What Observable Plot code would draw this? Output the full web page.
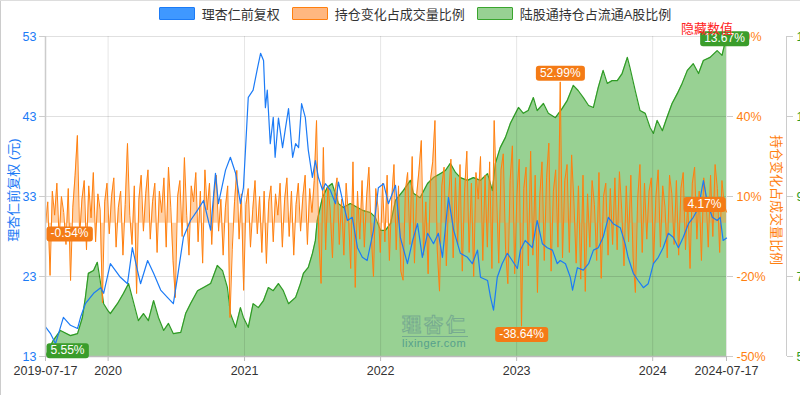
<!DOCTYPE html>
<html><head><meta charset="utf-8">
<script src="https://cdn.jsdelivr.net/npm/d3@7"></script>
<script src="https://cdn.jsdelivr.net/npm/@observablehq/plot@0.6"></script>
<style>
body{margin:0;background:#fff;font-family:"Liberation Sans",Arial,"Noto Sans CJK SC",sans-serif;}
#wrap{position:relative;width:800px;height:395px;overflow:hidden;}
#legend{height:26px;display:flex;justify-content:center;align-items:center;font-size:13px;color:#333;padding-left:30px;box-sizing:border-box}
.li{display:flex;align-items:center;margin:0 6px}
.sw{width:34px;height:11px;border:1px solid;margin-right:7px;border-radius:1px}
.abs{position:absolute;white-space:nowrap}
</style></head>
<body><div id="wrap">
<div id="legend"></div>
<div id="chart"></div>
</div>
<script>
// ---- data ----
const seriesNames = ["理杏仁前复权", "持仓变化占成交量比例", "陆股通持仓占流通A股比例"];
const startDate = "2019-07-17", endDate = "2024-07-17";
const priceDates = ["2019-07-17","2019-07-30","2019-08-13","2019-09-03","2019-09-22","2019-10-11","2019-10-19","2019-11-01","2019-11-23","2019-12-12","2019-12-20","2020-01-07","2020-02-03","2020-02-22","2020-03-06","2020-03-20","2020-03-28","2020-04-16","2020-05-02","2020-05-21","2020-06-08","2020-06-24","2020-07-05","2020-07-21","2020-08-09","2020-08-28","2020-09-13","2020-10-02","2020-10-15","2020-10-23","2020-11-11","2020-11-24","2020-12-08","2020-12-21","2020-12-29","2021-01-03","2021-01-11","2021-01-24","2021-02-05","2021-02-13","2021-02-21","2021-02-26","2021-03-03","2021-03-11","2021-03-19","2021-03-24","2021-04-02","2021-04-13","2021-04-21","2021-04-29","2021-05-10","2021-05-18","2021-05-26","2021-06-03","2021-06-13","2021-06-21","2021-07-02","2021-07-10","2021-07-18","2021-07-29","2021-08-06","2021-08-19","2021-09-02","2021-09-10","2021-09-23","2021-10-04","2021-10-17","2021-10-31","2021-11-13","2021-11-26","2021-12-13","2021-12-26","2022-01-09","2022-01-22","2022-02-10","2022-02-23","2022-03-14","2022-03-28","2022-04-10","2022-04-23","2022-05-07","2022-05-23","2022-06-05","2022-06-16","2022-07-02","2022-07-16","2022-08-03","2022-08-22","2022-09-04","2022-09-18","2022-09-26","2022-10-15","2022-10-23","2022-10-31","2022-11-10","2022-11-23","2022-12-07","2022-12-20","2023-01-03","2023-01-11","2023-01-24","2023-02-12","2023-02-25","2023-03-11","2023-03-24","2023-04-07","2023-04-20","2023-04-28","2023-05-12","2023-05-25","2023-05-31","2023-06-13","2023-06-29","2023-07-13","2023-07-26","2023-08-08","2023-08-21","2023-09-04","2023-09-17","2023-10-06","2023-10-19","2023-10-27","2023-11-10","2023-11-23","2023-12-07","2023-12-20","2024-01-03","2024-01-16","2024-01-29","2024-02-12","2024-02-25","2024-03-10","2024-03-23","2024-04-06","2024-04-19","2024-05-03","2024-05-16","2024-05-27","2024-06-09","2024-06-22","2024-06-30","2024-07-08","2024-07-17"];
const priceValues = [16.7,15.9,14.6,17.9,16.9,16.5,17.9,19.6,20.9,21.6,20.9,24.6,22.9,22.1,26.6,23.7,22.1,25.0,23.4,21.3,20.4,19.6,22.9,27.9,30.0,31.3,32.5,28.8,35.9,32.1,36.3,37.9,35.9,32.1,34.1,38.4,45.4,46.3,49.1,50.9,50.0,44.1,46.3,39.6,42.9,37.9,42.8,39.1,41.6,44.0,37.9,39.6,39.1,44.6,42.9,38.8,35.4,37.5,35.4,33.8,34.6,33.8,32.1,34.8,32.1,30.0,30.4,26.6,25.4,25.0,28.8,34.1,34.6,32.1,34.4,27.9,24.6,27.5,29.6,25.4,28.4,27.1,28.4,25.4,32.9,28.8,25.9,25.4,24.6,26.3,22.9,22.5,20.4,18.8,22.9,24.6,25.9,25.0,24.0,26.3,27.5,26.6,30.0,27.1,26.6,26.3,24.6,25.0,24.6,22.9,21.3,24.1,23.8,24.6,26.3,26.6,27.9,30.4,29.6,29.1,27.1,25.4,23.4,22.5,21.6,22.1,24.6,25.4,26.6,28.4,27.9,26.6,27.9,29.6,30.4,31.6,35.0,32.1,30.4,30.0,30.4,27.5,27.8];
const holdDates = ["2019-07-17","2019-08-07","2019-08-26","2019-09-22","2019-10-11","2019-10-24","2019-11-01","2019-11-09","2019-11-23","2019-12-03","2019-12-12","2019-12-20","2019-12-31","2020-01-07","2020-01-26","2020-02-11","2020-02-25","2020-03-08","2020-03-22","2020-04-05","2020-04-18","2020-05-02","2020-05-15","2020-05-29","2020-06-11","2020-06-24","2020-07-14","2020-07-27","2020-08-09","2020-08-28","2020-09-13","2020-10-02","2020-10-20","2020-11-03","2020-11-16","2020-11-24","2020-12-08","2020-12-21","2020-12-29","2021-01-11","2021-01-24","2021-02-07","2021-02-21","2021-03-06","2021-03-19","2021-04-02","2021-04-15","2021-04-29","2021-05-18","2021-05-31","2021-06-08","2021-06-21","2021-07-02","2021-07-10","2021-07-15","2021-07-29","2021-08-11","2021-08-24","2021-09-10","2021-09-23","2021-10-12","2021-10-31","2021-11-16","2021-12-05","2021-12-18","2022-01-01","2022-01-14","2022-01-28","2022-02-10","2022-03-03","2022-03-22","2022-03-30","2022-04-17","2022-05-07","2022-05-23","2022-06-10","2022-06-24","2022-07-07","2022-07-21","2022-08-03","2022-08-22","2022-09-07","2022-09-26","2022-10-15","2022-10-28","2022-11-05","2022-11-18","2022-12-02","2022-12-15","2022-12-29","2023-01-06","2023-01-19","2023-02-01","2023-02-15","2023-02-25","2023-03-14","2023-03-27","2023-04-15","2023-05-03","2023-05-17","2023-06-02","2023-06-15","2023-06-29","2023-07-13","2023-07-26","2023-08-08","2023-08-21","2023-09-01","2023-09-14","2023-09-28","2023-10-11","2023-10-25","2023-11-01","2023-11-15","2023-11-28","2023-12-12","2023-12-25","2024-01-03","2024-01-13","2024-01-27","2024-02-08","2024-02-22","2024-03-07","2024-03-20","2024-04-03","2024-04-19","2024-05-03","2024-05-16","2024-06-03","2024-06-22","2024-07-05","2024-07-17"];
const holdValues = [5.55,5.96,6.21,6.08,6.13,6.54,7.05,7.66,7.73,7.94,7.40,6.89,6.72,6.64,6.89,7.15,7.40,6.97,6.46,6.64,6.46,6.97,6.54,6.21,6.39,6.13,6.16,6.64,6.89,7.22,7.30,7.40,7.86,7.73,7.30,6.64,6.29,6.79,6.54,6.29,6.89,6.79,6.97,7.30,7.22,7.40,7.22,6.89,7.05,7.40,7.66,7.81,8.16,8.49,9.00,9.58,9.84,9.94,9.43,9.33,9.43,9.33,9.25,9.20,9.08,8.75,8.75,8.93,9.51,9.76,10.02,9.69,9.58,9.94,10.09,10.19,10.27,10.45,10.22,10.09,10.02,10.09,10.02,10.19,9.76,10.45,10.85,11.11,11.46,11.72,11.87,11.72,11.79,12.12,11.79,11.97,11.72,11.61,11.84,12.05,12.43,12.30,12.12,11.92,11.87,12.38,12.81,12.48,12.55,12.55,12.73,13.14,12.88,12.30,11.79,11.72,11.36,11.21,11.54,11.28,11.61,11.97,12.22,12.48,12.81,12.98,12.73,13.06,13.14,13.31,13.19,13.67];
// holding change as % of turnover, sampled evenly from start to end
const flowValues = [
-0.54,8,-19.6,12,3,15,-6,10,4,-8, 13,-21.5,6,18,32.9,-5,9,16,-10,14,
2,19,-7,11,5,-29.8,8,15,-4,10, 17,-9,6,12,-12,7,29.9,3,-8,14,
-26.4,9,18,-3,11,20,-6,8,15,-11, 12,4,17,-9,21,6,-14,-27.9,10,16,
-5,24.6,3,-12,14,8,19,-7,12,-15, 20,5,15,-8,11,18,-3,9,-12,6,
14,-35.4,-10,8,19.8,-6,11,-25.2,7,13, -9,5,16,-4,10,-11,12,-15.1,8,14,
-7,11,3,15,-9,9,17,-5,12,-12, 7,15,-3,10,18,-8,13,4,16,38.5,
-6,-22.6,28.4,-10,14,5,-13,11,17,-8, 9,-12,15,3,-17,23,-24.1,12,-6,16,
-9,10,21,-4,-20,13,6,-11,15,-7, 18,-14,9,22,-10,14,-18,-21.4,12,19,
-8,25,-15,11,20,31,-12,8,-19,16, 23,38.5,-10,-25.5,14,21,-16,9,24,-13,
17,-8,22,-18,12,27,-11,15,-20,19, 9,25,-14,18,-9,23,-17,38.5,12,-15,
20,26,-10,-22.7,16,29,-19,11,24,-38.64, 13,21,-16,27,-12,18,-26,10,23,-14,
17,30,-18,12,20,-9,52.99,-13,16,22, -11,25.6,8,-15,14,-21,18,-25.6,11,-9,
16,7,-14,19,-20.7,10,15,-12,13,-8, 17,-10,19.3,5,-16,14,-7,18,-13,-26,
9,22,-11,15,-6,12,17,-15,10,20, -9,14,6,-13,18,11,-8,16,-12,13,
19,-10,8,-17,15,21,-6,12,-14,17, 10,-9,18,-5,22,13,-11,16,7,4.17];
const xTickDates = ["2019-07-17","2020-01-01","2021-01-01","2022-01-01","2023-01-01","2024-01-01","2024-07-17"];
const xTickLabels = ["2019-07-17","2020","2021","2022","2023","2024","2024-07-17"];
const priceTicks = [13,23,33,43,53];
const flowTicks = [-50,-20,10,40,70];
const holdTicks = [5.55,7.58,9.61,11.64,13.67];

// ---- colors ----
const BLUE="#1c7bf6", ORANGE="#ff800f", GREEN="#2f9b25", GREENFILL="#98d193";

const parse = d3.utcParse("%Y-%m-%d");
const t0 = parse(startDate), t1 = parse(endDate);
const toPriceFromFlow = d3.scaleLinear([-50,70],[13,53]);
const toPriceFromHold = d3.scaleLinear([5.55,13.67],[13,53]);

const price = priceDates.map((d,i)=>({date:parse(d), v:priceValues[i]}));
const hold = holdDates.map((d,i)=>({date:parse(d), v:holdValues[i], y:toPriceFromHold(holdValues[i])}));
const flow = flowValues.map((v,i)=>({date:new Date(+t0 + (t1-t0)*i/(flowValues.length-1)), v, y:toPriceFromFlow(v)}));
const xticks = xTickDates.map(parse);
const xlab = new Map(xticks.map((d,i)=>[+d, xTickLabels[i]]));

// legend
const leg = document.getElementById("legend");
const legCols = [[BLUE,"#3f98ff"],[ORANGE,"#ffb780"],[ "#3aa52e", GREENFILL]];
seriesNames.forEach((n,i)=>{
  const el=document.createElement("div"); el.className="li";
  el.innerHTML=`<div class="sw" style="border-color:${legCols[i][0]};background:${legCols[i][1]}"></div><span>${n}</span>`;
  leg.appendChild(el);
});

const fi = flowValues.length-1;
const fmax = d3.maxIndex(flowValues), fmin = d3.minIndex(flowValues);
const pct = v => v.toFixed(2)+"%";

const plot = Plot.plot({
  width:800, height:369,
  marginTop:10, marginBottom:39, marginLeft:45, marginRight:74,
  x:{type:"utc", domain:[t0,t1]},
  y:{domain:[13,53]},
  style:{fontFamily:'"Liberation Sans",Arial,"Noto Sans CJK SC",sans-serif', fontSize:"12px", color:"#333", overflow:"visible"},
  marks:[
    Plot.areaY(hold,{x:"date", y1:13, y2:"y", fill:GREENFILL, curve:"linear"}),
    Plot.lineY(hold,{x:"date", y:"y", stroke:GREEN, strokeWidth:1.2}),
    Plot.gridY(priceTicks,{stroke:"#000", strokeOpacity:0.12}),
    Plot.gridX(xticks,{stroke:"#000", strokeOpacity:0.1}),
    Plot.areaY(flow,{x:"date", y1:toPriceFromFlow(0), y2:"y", fill:"#ff9a3c", fillOpacity:0.45}),
    Plot.lineY(flow,{x:"date", y:"y", stroke:ORANGE, strokeWidth:1}),
    Plot.lineY(price,{x:"date", y:"v", stroke:BLUE, strokeWidth:1.2}),
    Plot.ruleY([13],{stroke:"#bbb", strokeWidth:1.5}),
    Plot.ruleX([t0],{stroke:"#ccc", strokeWidth:1.5}),
    Plot.axisX(xticks,{tickFormat:d=>xlab.get(+d), tickSize:5, tickPadding:5, stroke:"#bbb", fill:"#333", fontSize:12.5, label:null}),
    Plot.axisY(priceTicks,{anchor:"left", tickSize:6, tickPadding:3, stroke:"#ccc", fill:BLUE, fontSize:12.5, label:null}),
    Plot.axisY(flowTicks.map(toPriceFromFlow),{anchor:"right", tickSize:6, tickPadding:4, stroke:"#ccc", fill:ORANGE, fontSize:12.5, tickFormat:d=>Math.round(toPriceFromFlow.invert(d))+"%", label:null}),
    Plot.ruleX([t1],{y1:13, y2:53, dx:60, stroke:"#ccc"}),
    Plot.axisY(holdTicks.map(toPriceFromHold),{anchor:"right", dx:60, tickSize:6, tickPadding:4, stroke:"#ccc", fill:GREEN, fontSize:12.5, tickFormat:d=>toPriceFromHold.invert(d).toFixed(2)+"%", label:null}),
    // value badges
    Plot.text([flow[0]],{x:"date", y:"y", text:d=>pct(d.v), textAnchor:"start", dx:5, dy:9, fill:"white", fontSize:12, className:"bo"}),
    Plot.text([flow[fmax]],{x:"date", y:"y", text:d=>pct(d.v), dy:-9, fill:"white", fontSize:12, className:"bo"}),
    Plot.text([flow[fmin]],{x:"date", y:"y", text:d=>pct(d.v), dy:8, fill:"white", fontSize:12, className:"bo"}),
    Plot.text([flow[fi]],{x:"date", y:"y", text:d=>pct(d.v), textAnchor:"end", dx:-5, dy:-8, fill:"white", fontSize:12, className:"bo"}),
    Plot.text([hold[0]],{x:"date", y:"y", text:d=>pct(d.v), textAnchor:"start", dx:5, dy:-6, fill:"white", fontSize:12, className:"bg"}),
    Plot.text([hold[hold.length-1]],{x:"date", y:"y", text:d=>pct(d.v), dy:2, dx:-2, fill:"white", fontSize:12, className:"bg"})
  ]
});
document.getElementById("chart").appendChild(plot);
function badges(cls,color){
  plot.querySelectorAll("g."+cls+" text").forEach(t=>{
    const b=t.getBBox();
    const r=document.createElementNS("http://www.w3.org/2000/svg","rect");
    r.setAttribute("x",b.x-4); r.setAttribute("y",b.y);
    r.setAttribute("width",b.width+8); r.setAttribute("height",b.height+1);
    r.setAttribute("rx",3); r.setAttribute("fill",color);
    if(t.getAttribute("transform")) r.setAttribute("transform",t.getAttribute("transform"));
    t.parentNode.insertBefore(r,t);
  });
}
badges("bo","#f47b16"); badges("bg","#3a9d2b");

// titles and decorations
const wrap=document.getElementById("wrap");
function add(html,style){const d=document.createElement("div");d.className="abs";d.innerHTML=html;d.style.cssText+=style;wrap.appendChild(d);return d;}
add("理杏仁前复权 (元)","left:12px;top:190px;color:"+BLUE+";font-size:13px;transform:translate(-50%,-50%) rotate(-90deg);");
add("持仓变化占成交量比例","left:777px;top:200px;color:"+ORANGE+";font-size:13px;transform:translate(-50%,-50%) rotate(90deg);");
add("隐藏数值","left:681px;top:18px;color:#f22;font-size:13px;");
add('<div style="font-size:19px;font-weight:bold;letter-spacing:3px;color:transparent;-webkit-text-stroke:1px #6d9f8f;border-bottom:1px solid #6d9f8f;line-height:20px">理杏仁</div><div style="font-size:11px;color:#3f8f8a;letter-spacing:0.5px">lixinger.com</div>',"left:402px;top:316px;opacity:0.75;");
add("","left:0;top:0;width:1px;height:395px;background:#ccc;");
add("","left:0;top:0;width:800px;height:1px;background:#ddd;");
</script>
</body></html>
